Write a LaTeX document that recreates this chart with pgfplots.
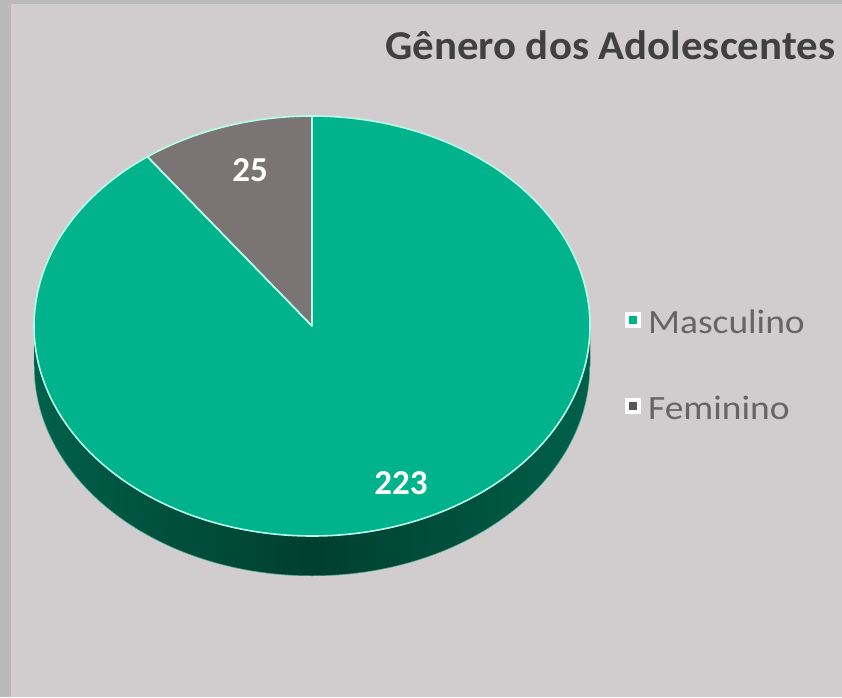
\documentclass[border=0pt]{standalone}
\usepackage{pgfplots}
\pgfplotsset{compat=1.18}
\usepackage{fontspec}
\setmainfont{Carlito}
\newfontfamily\titlefont[FakeStretch=1.045]{Carlito}
\newfontfamily\legfont[FakeStretch=1.1]{Carlito}
\definecolor{bgpanel}{HTML}{D1CDCE}
\definecolor{bgframe}{HTML}{B9B9B9}
\definecolor{mteal}{HTML}{00B38C}
\definecolor{fgray}{HTML}{7B7474}
\definecolor{fgraylg}{HTML}{5A5454}
\definecolor{sidedark}{HTML}{003F2F}
\definecolor{sidelight}{HTML}{00604A}
\definecolor{edge}{HTML}{B5FFEA}
\definecolor{titlec}{HTML}{404040}
\definecolor{legc}{HTML}{656565}
% data
\def\valM{223}
\def\valF{25}
\pgfmathsetmacro\total{\valM+\valF}
\pgfmathsetmacro\angF{360*\valF/\total}
\pgfmathsetmacro\endF{90+\angF}
% geometry (pt = px)
\def\cx{312}\def\cy{371}\def\rx{278}\def\ry{210}\def\dep{40}
\pgfmathsetmacro\ex{\cx+\rx*cos(\endF)}
\pgfmathsetmacro\ey{\cy+\ry*sin(\endF)}
\begin{document}
\begin{tikzpicture}
\useasboundingbox (0,0) rectangle (842pt,697pt);
\clip (0,0) rectangle (842pt,697pt);
\begin{axis}[x=1pt,y=1pt,xmin=0,xmax=842,ymin=0,ymax=697,
  at={(0,0)}, anchor=south west, hide axis, clip=false,
  legend cell align=left,
  legend style={at={(axis cs:622,389)}, anchor=north west, draw=none, fill=none,
    font=\legfont\fontsize{34}{40}\selectfont, text=legc, row sep=57pt, inner sep=0pt}]
\fill[bgframe] (axis cs:0,0) rectangle (axis cs:842,697);
\fill[bgpanel] (axis cs:11,0) rectangle (axis cs:842,693);
% side of the pie
\fill[left color=sidelight, right color=sidelight, middle color=sidedark]
  (axis cs:{\cx-\rx},\cy) -- (axis cs:{\cx-\rx},{\cy-\dep})
  arc[start angle=180,end angle=360,x radius=\rx pt,y radius=\ry pt]
  -- (axis cs:{\cx+\rx},\cy)
  arc[start angle=0,end angle=-180,x radius=\rx pt,y radius=\ry pt] -- cycle;
\draw[edge, opacity=0.5, line width=1pt] (axis cs:{\cx-\rx},{\cy-\dep})
  arc[start angle=180,end angle=360,x radius=\rx pt,y radius=\ry pt];
% Masculino slice
\fill[mteal] (axis cs:\cx,\cy) -- (axis cs:\ex,\ey)
  arc[start angle=\endF,end angle=450,x radius=\rx pt,y radius=\ry pt] -- cycle;
% Feminino slice
\fill[fgray] (axis cs:\cx,\cy) -- (axis cs:\cx,{\cy+\ry})
  arc[start angle=90,end angle=\endF,x radius=\rx pt,y radius=\ry pt] -- cycle;
% outlines
\draw[edge, line width=1.6pt, line join=round] (axis cs:\cx,\cy) -- (axis cs:\ex,\ey)
  arc[start angle=\endF,end angle=450,x radius=\rx pt,y radius=\ry pt] -- cycle;
\draw[edge, line width=1.6pt, line join=round] (axis cs:\cx,\cy) -- (axis cs:\cx,{\cy+\ry})
  arc[start angle=90,end angle=\endF,x radius=\rx pt,y radius=\ry pt] -- cycle;
% data labels
\node[text=white, font=\bfseries\fontsize{35}{40}\selectfont] at (axis cs:250,527) {25};
\node[text=white, font=\bfseries\fontsize{35}{40}\selectfont] at (axis cs:401,214) {223};
% title
\node[anchor=base west, text=titlec, inner sep=0pt, font=\titlefont\bfseries\fontsize{41}{48}\selectfont] at (axis cs:385,637) {Gênero dos Adolescentes};
% legend
\addlegendimage{legend image code/.code={\path[draw=none,fill=none] (0pt,0pt) -- (24pt,0pt);\draw[white,line width=4pt,fill=mteal] (5pt,-3pt) rectangle (17pt,9pt);}}
\addlegendentry{Masculino}
\addlegendimage{legend image code/.code={\path[draw=none,fill=none] (0pt,0pt) -- (24pt,0pt);\draw[white,line width=4pt,fill=fgraylg] (5pt,-3pt) rectangle (17pt,9pt);}}
\addlegendentry{Feminino}
\end{axis}
\end{tikzpicture}
\end{document}
